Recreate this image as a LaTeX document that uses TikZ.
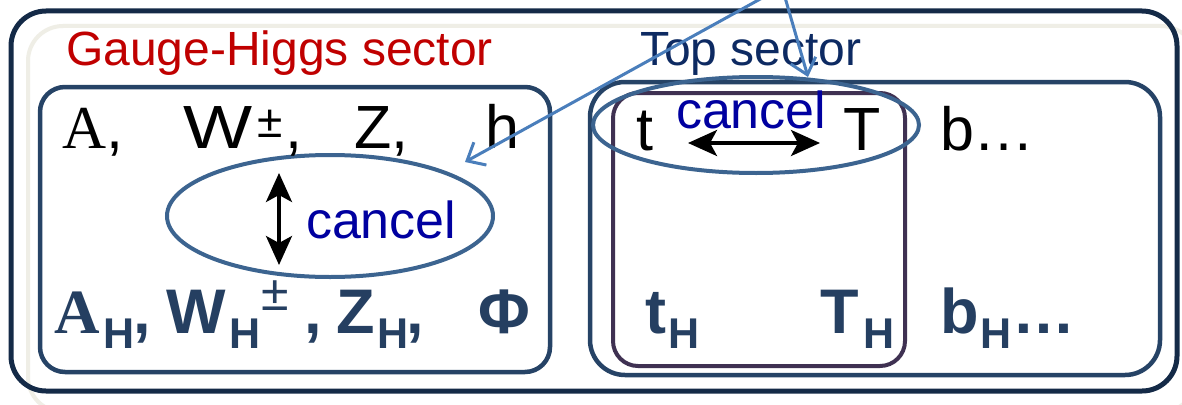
\documentclass[tikz,border=0pt]{standalone}
\usepackage{graphicx}
\usepackage{fontspec}
\setmainfont{Liberation Sans}
\newfontfamily\serifA{Liberation Serif}
\usetikzlibrary{arrows.meta,shapes.geometric}
\definecolor{outerc}{HTML}{142A47}
\definecolor{boxc}{HTML}{264366}
\definecolor{purc}{HTML}{3F3152}
\definecolor{ellc}{HTML}{3C6490}
\definecolor{arrc}{HTML}{4A7EBB}
\definecolor{redc}{HTML}{C00000}
\definecolor{navyc}{HTML}{0D2A62}
\definecolor{cancelc}{HTML}{0000A0}
\definecolor{heavyc}{HTML}{253F61}
\definecolor{shadc}{HTML}{EFEEE6}
\newcommand\headsz{\fontsize{48}{52}\selectfont}
\newcommand\rowsz{\fontsize{61}{64}\selectfont}
\newcommand\supsz{\fontsize{46}{50}\selectfont}
\newcommand\bigsz{\fontsize{63}{66}\selectfont\bfseries}
\newcommand\subsz{\fontsize{43}{46}\selectfont\bfseries}
\newcommand\cansz{\fontsize{52}{56}\selectfont}
\begin{document}
\begin{tikzpicture}[x=1pt,y=-1pt,
  txt/.style={anchor=base west, inner sep=0pt, outer sep=0pt},
  row/.style={txt, font=\rowsz, text=black},
  heavy/.style={txt, font=\bigsz, text=heavyc},
  subH/.style={txt, font=\subsz, text=heavyc},
  canceltxt/.style={txt, font=\cansz, text=cancelc},
  sectorbox/.style={draw=boxc, line width=4.5pt},
  ring/.style={ellipse, draw=ellc, line width=4pt, inner sep=0pt},
  blk/.style={line width=3.5pt, black, {Stealth[length=29pt,width=26pt,inset=7pt]}-{Stealth[length=29pt,width=26pt,inset=7pt]}},
  pointer/.style={line width=3pt, arrc, -{Straight Barb[length=15pt,width=26pt]}}
]
\useasboundingbox (0,0) rectangle (1182,404);
\clip (0,0) rectangle (1182,404);
\fill[white] (0,0) rectangle (1182,404);
% shadow and frames
\draw[shadc, line width=4pt, rounded corners=35pt] (28,26) rectangle (1196,412);
\draw[outerc, line width=5pt, rounded corners=35pt] (11,11) rectangle (1177,391);
\draw[sectorbox, rounded corners=25pt] (40,87) rectangle (550,372);
\draw[sectorbox, rounded corners=35pt] (590,82) rectangle (1160,375);
\draw[purc, line width=4pt, rounded corners=25pt] (613,93) rectangle (905,366);
% ellipses
\node[ring, minimum width=326pt, minimum height=96pt] (topell) at (756,125) {};
\node[ring, minimum width=326pt, minimum height=122pt] (leftell) at (330,216) {};
% headings
\node[txt, font=\headsz, text=redc] (gh) at (66,65) {Gauge-Higgs sector};
\node[txt, font=\headsz, text=navyc] (ts) at (640,65) {Top sector};
% row 1
\node[row] (rA) at (62,148) {{\serifA A},};
\node[row] (rW) at (183,148) {\scalebox{1.2}[1]{W}};
\node[txt, font=\supsz] (rpm) at (257,137) {±};
\node[row] (rWc) at (285,148) {,};
\node[row] (rZ) at (354,148) {Z,};
\node[row] (rh) at (485,148) {h};
% row 2
\node[heavy] (bA) at (54,333) {\serifA A};
\node[subH] (bAH) at (103,348) {H};
\node[heavy] (bAc) at (133,333) {,};
\node[heavy] (bW) at (166,333) {W};
\node[subH] (bWH) at (229,348) {H};
\node[txt, font=\fontsize{50}{54}\selectfont, text=heavyc] (bWpm) at (261,310) {±};
\node[heavy] (bWc) at (304,333) {,};
\node[heavy] (bZ) at (336,333) {Z};
\node[subH] (bZH) at (377,348) {H};
\node[heavy] (bZc) at (406,333) {,};
\node[heavy] (bPhi) at (478,333) {Φ};
\node[heavy] (bt) at (645,333) {t};
\node[subH] (btH) at (668,348) {H};
\node[heavy] (bT) at (820,333) {T};
\node[subH] (bTH) at (863,348) {H};
\node[heavy] (bb) at (940,333) {b};
\node[subH] (bbH) at (980,348) {H};
\node[heavy] (bdots) at (1012,333) {…};
% top sector row 1
\node[row] (tt) at (636,150) {t};
\node[row] (tT) at (843,150) {T};
\node[row] (tb) at (940,150) {b…};
% cancel labels
\node[canceltxt] (c1) at (676,128) {cancel};
\node[canceltxt] (c2) at (306,238) {cancel};
% black double arrows
\coordinate (h1) at (688,143);
\coordinate (h2) at (820,143);
\draw[blk] (h1) -- (h2);
\coordinate (v1) at (279,173);
\coordinate (v2) at (279,265);
\draw[blk] (v1) -- (v2);
% blue pointers
\coordinate (src) at (782,-13);
\coordinate (tipL) at (465,162);
\coordinate (tipT) at (808,77);
\draw[pointer] (src) -- (tipL);
\draw[pointer] (src) -- (tipT);
\end{tikzpicture}
\end{document}
